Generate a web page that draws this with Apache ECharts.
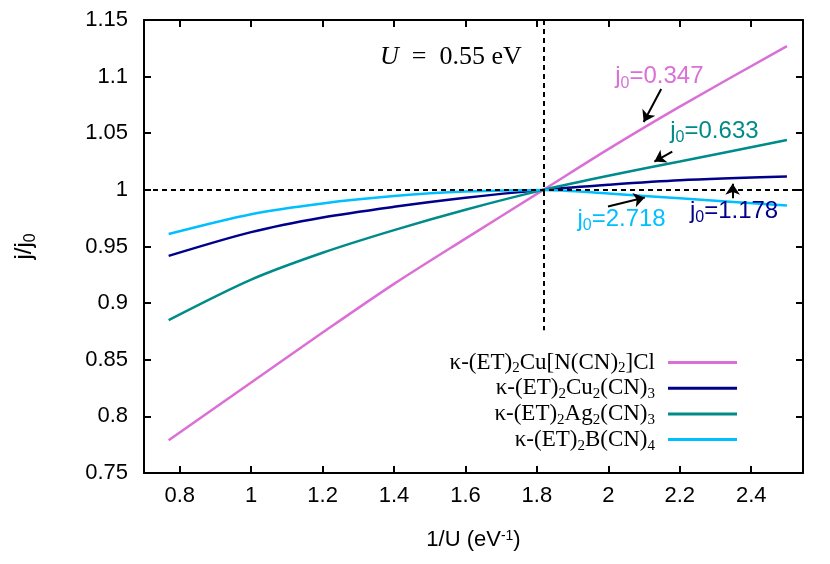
<!DOCTYPE html>
<html>
<head>
<meta charset="utf-8">
<script src="https://cdn.jsdelivr.net/npm/echarts@6/dist/echarts.min.js"></script>
<style>
  html, body { margin: 0; padding: 0; background: #fff; }
  #main { width: 830px; height: 564px; }
</style>
</head>
<body>
<div id="main"></div>
<script>
// 1/U values (U from 1.3 down to 0.4 eV)
var invU = [0.769, 1.0, 1.2, 1.4, 1.6, 1.818, 2.0, 2.2, 2.5];

// j/j0 for each salt
var clSalt = [0.779, 0.830, 0.874, 0.917, 0.957, 1.0, 1.036, 1.0735, 1.127];
var cuSalt = [0.9417, 0.9627, 0.9756, 0.985, 0.993, 1.0, 1.0045, 1.0085, 1.0118];
var agSalt = [0.885, 0.9208, 0.9445, 0.9645, 0.9825, 1.0, 1.0125, 1.025, 1.044];
var bSalt = [0.961, 0.9785, 0.988, 0.9945, 0.9985, 1.0, 0.9968, 0.9925, 0.9862];

var seriesNames = [
    'κ-(ET)2Cu[N(CN)2]Cl',
    'κ-(ET)2Cu2(CN)3',
    'κ-(ET)2Ag2(CN)3',
    'κ-(ET)2B(CN)4'
];
var j0Labels = ['0.347', '1.178', '0.633', '2.718'];
var colors = ['#da70d6', '#00008b', '#008b8b', '#00bfff'];

var xTicks = [0.8, 1.0, 1.2, 1.4, 1.6, 1.8, 2.0, 2.2, 2.4];
var uRef = 1.818;   // 1/0.55

function pairs(ys) {
    return invU.map(function (x, i) { return [x, ys[i]]; });
}

function fmtNum(v) {
    return String(+v.toFixed(2));
}

// digits -> subscripts in rich text
function subName(name) {
    return '{t|' + name.replace(/(\d)/g, '}{s|$1}{t|') + '}';
}

var dom = document.getElementById('main');
var myChart = echarts.init(dom, null, { renderer: 'canvas' });

var sansRich = {
    t: { fontFamily: 'Liberation Sans', fontSize: 24, lineHeight: 24, verticalAlign: 'top' },
    s: { fontFamily: 'Liberation Sans', fontSize: 16, lineHeight: 16, padding: [13, 0, 0, 0] }
};

function j0Text(val, color) {
    return {
        show: true,
        position: 'inside',
        color: color,
        formatter: '{t|j}{s|0}{t|=' + val + '}',
        rich: {
            t: { color: color, fontFamily: 'Liberation Sans', fontSize: 24, lineHeight: 24, verticalAlign: 'top' },
            s: { color: color, fontFamily: 'Liberation Sans', fontSize: 16, lineHeight: 16, padding: [13, 0, 0, 0] }
        }
    };
}

// annotation text + arrow for each curve (data coords)
var notes = [
    { text: [2.143, 1.100], arrow: [[2.148, 1.089], [2.099, 1.060]] },
    { text: [2.352, 0.981], arrow: [[2.348, 0.9925], [2.348, 1.0055]] },
    { text: [2.297, 1.052], arrow: [[2.179, 1.0338], [2.129, 1.025]] },
    { text: [2.037, 0.974], arrow: [[1.999, 0.9853], [2.102, 0.9932]] }
];

var allData = [clSalt, cuSalt, agSalt, bSalt];

var series = allData.map(function (ys, i) {
    return {
        name: seriesNames[i],
        type: 'line',
        data: pairs(ys),
        smooth: 0.3,
        symbol: 'none',
        color: colors[i],
        lineStyle: { width: 2.5, color: colors[i] },
        z: 3,
        markPoint: {
            silent: true,
            symbol: 'rect',
            symbolSize: 1,
            itemStyle: { color: 'rgba(0,0,0,0)' },
            data: [{ coord: notes[i].text, label: j0Text(j0Labels[i], colors[i]) }]
        },
        markLine: {
            silent: true,
            symbol: ['none', 'arrow'],
            symbolSize: 11,
            label: { show: false },
            itemStyle: { color: '#000' },
            lineStyle: { color: '#000', type: 'solid', width: 2 },
            data: [[{ coord: notes[i].arrow[0] }, { coord: notes[i].arrow[1] }]]
        }
    };
});

// dashed reference lines
series.push({
    name: 'ref',
    type: 'line',
    data: [[uRef, 1]],
    symbol: 'none',
    lineStyle: { width: 0 },
    z: 2,
    markLine: {
        silent: true,
        symbol: 'none',
        label: { show: false },
        lineStyle: { color: '#000', type: [5, 4], width: 2 },
        data: [
            { yAxis: 1 },
            [{ coord: [uRef, 1.15] }, { coord: [uRef, 0.876] }]
        ]
    },
    markPoint: {
        silent: true,
        symbol: 'rect',
        symbolSize: 1,
        itemStyle: { color: 'rgba(0,0,0,0)' },
        data: [{
            coord: [1.559, 1.1175],
            label: {
                show: true,
                position: 'inside',
                formatter: '{i|U}{t|  =  0.55 eV}',
                rich: {
                    i: { fontFamily: 'Liberation Serif', fontStyle: 'italic', fontSize: 26, color: '#000' },
                    t: { fontFamily: 'Liberation Serif', fontSize: 26, color: '#000' }
                }
            }
        }]
    }
});

var legendRich = {
    t: { fontFamily: 'Liberation Serif', fontSize: 23, lineHeight: 23, verticalAlign: 'top', color: '#000' },
    s: { fontFamily: 'Liberation Serif', fontSize: 15, lineHeight: 15, padding: [12, 0, 0, 0], color: '#000' }
};

var legends = seriesNames.map(function (name, i) {
    return {
        data: [name],
        orient: 'vertical',
        align: 'right',
        right: 93,
        top: 349 + i * 25.7,
        padding: 0,
        icon: 'rect',
        itemWidth: 69,
        itemHeight: 3,
        selectedMode: false,
        formatter: function (n) { return subName(n); },
        textStyle: { padding: [0, 8, 0, 0], rich: legendRich }
    };
});

var axisLine = { show: true, lineStyle: { color: '#000', width: 2 } };

var option = {
    animation: false,
    backgroundColor: '#fff',
    grid: { left: 144, right: 27, top: 20, bottom: 91 },
    legend: legends,
    xAxis: [{
        type: 'value',
        min: 0.7,
        max: 2.545,
        axisLine: axisLine,
        axisTick: { inside: true, length: 7, lineStyle: { color: '#000', width: 2 }, customValues: xTicks },
        axisLabel: {
            customValues: xTicks,
            formatter: fmtNum,
            color: '#000',
            fontFamily: 'Liberation Sans',
            fontSize: 22,
            margin: 12
        },
        splitLine: { show: false },
        name: '{t|1/U (eV}{p|-1}{t|)}',
        nameLocation: 'middle',
        nameGap: 56,
        nameTextStyle: {
            rich: {
                t: { fontFamily: 'Liberation Sans', fontSize: 22, lineHeight: 22, verticalAlign: 'bottom', color: '#000' },
                p: { fontFamily: 'Liberation Sans', fontSize: 14, lineHeight: 14, padding: [0, 0, 10, 0], verticalAlign: 'top', color: '#000' }
            }
        }
    }, {
        type: 'value',
        position: 'top',
        min: 0.7,
        max: 2.545,
        axisLine: axisLine,
        axisTick: { inside: true, length: 7, lineStyle: { color: '#000', width: 2 }, customValues: xTicks },
        axisLabel: { show: false },
        splitLine: { show: false }
    }],
    yAxis: [{
        type: 'value',
        min: 0.75,
        max: 1.15,
        interval: 0.05,
        axisLine: axisLine,
        axisTick: { inside: true, length: 7, lineStyle: { color: '#000', width: 2 } },
        axisLabel: {
            formatter: fmtNum,
            color: '#000',
            fontFamily: 'Liberation Sans',
            fontSize: 22,
            margin: 16
        },
        splitLine: { show: false },
        name: '{t|j/j}{s|0}',
        nameLocation: 'middle',
        nameGap: 108,
        nameTextStyle: { rich: sansRich }
    }, {
        type: 'value',
        position: 'right',
        min: 0.75,
        max: 1.15,
        interval: 0.05,
        axisLine: axisLine,
        axisTick: { inside: true, length: 7, lineStyle: { color: '#000', width: 2 } },
        axisLabel: { show: false },
        splitLine: { show: false }
    }],
    series: series
};

if (option && typeof option === 'object') {
    myChart.setOption(option);
}

window.addEventListener('resize', myChart.resize);
</script>
</body>
</html>
